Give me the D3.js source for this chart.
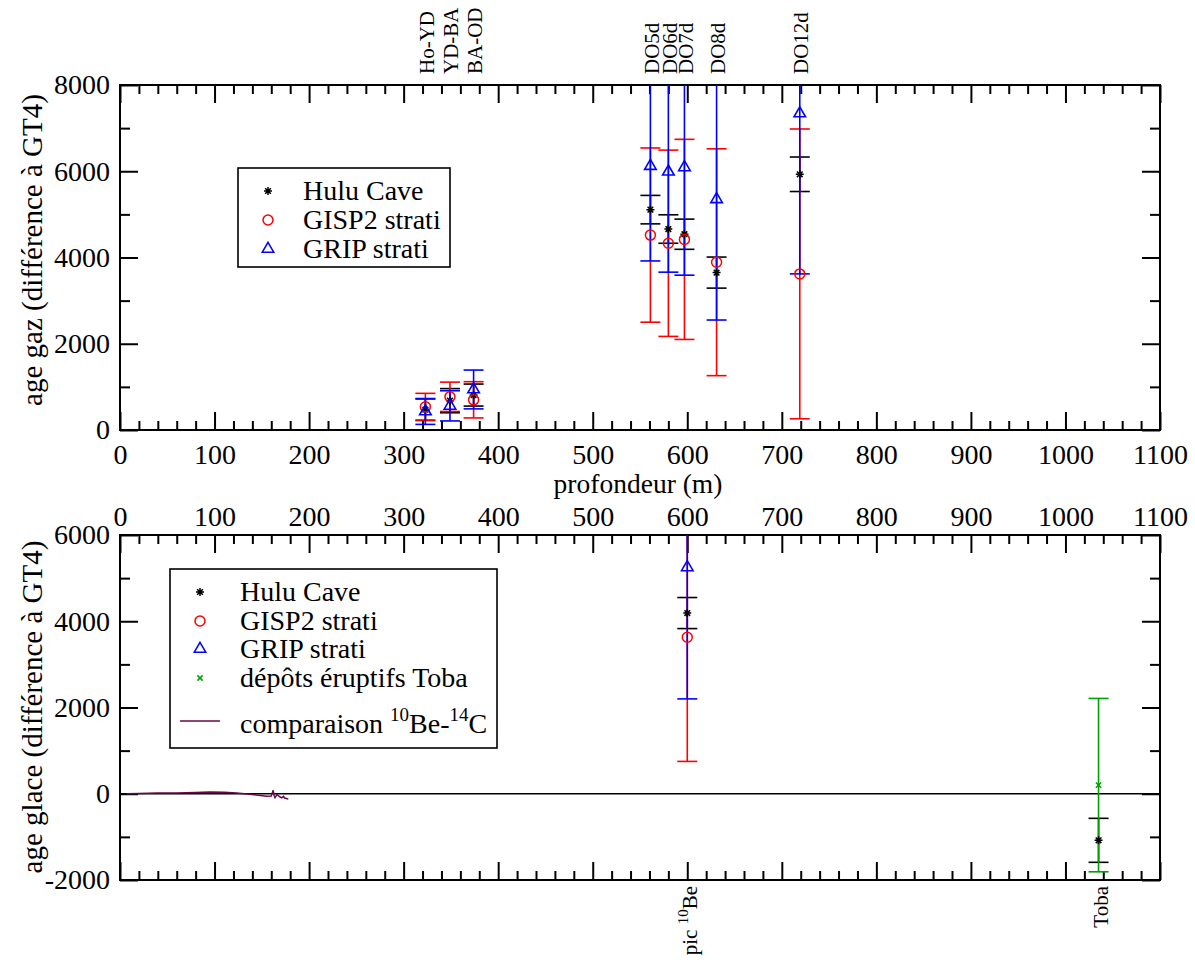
<!DOCTYPE html>
<html>
<head>
<meta charset="utf-8">
<script src="https://cdn.jsdelivr.net/npm/d3@7"></script>
<style>
  body { margin: 0; background: #fff; }
  svg { display: block; }
</style>
</head>
<body>
<svg id="chart" width="1195" height="962"></svg>
<script>
// ---------- DATA ----------
// Top panel (age gaz)
const topDepths = [323, 349, 374, 561, 580, 597, 631, 719];
const topEvents = ["Ho-YD", "YD-BA", "BA-OD", "DO5d", "DO6d", "DO7d", "DO8d", "DO12d"];
const huluTop = [470, 680, 810, 5110, 4660, 4540, 3650, 5930];
const huluTopErr = [250, 280, 255, 330, 330, 350, 360, 400];
const gisp2Top = [540, 770, 700, 4520, 4330, 4420, 3890, 3620];
const gisp2TopErr = [310, 340, 420, 2020, 2160, 2320, 2630, 3360];
const gripTop = [430, 560, 940, 6120, 5990, 6090, 5350, 7340];
const gripTopErr = [300, 350, 450, 2200, 2330, 2500, 2800, 3720];

// Bottom panel (age glace)
const botDepthBe = [600];
const huluBotBe = [4190];
const huluBotBeErr = [360];
const gisp2Bot = [3630];
const gisp2BotErr = [2880];
const gripBot = [5250];
const gripBotErr = [3050];
const botDepthToba = [1035];
const huluBotToba = [-1080];
const huluBotTobaErr = [510];
const tobaBot = [200];
const tobaBotErr = [2010];
const beCDepth = [7, 20, 40, 60, 80, 95, 110, 123, 140, 155, 160, 162, 163, 164, 166, 167, 169, 171, 173, 174, 176, 178];
const beCVal   = [0, 5, 15, 20, 28, 40, 35, 20, -20, -60, -55, 80, -40, -90, -20, -35, -70, -95, -60, -100, -110, -125];

const xTicksMajor = [0, 100, 200, 300, 400, 500, 600, 700, 800, 900, 1000, 1100];
const yTopTicks = [0, 2000, 4000, 6000, 8000];
const yBotTicks = [-2000, 0, 2000, 4000, 6000];
const bottomMarkers = [{depth: 600, label: "pic", sup: "10", tail: "Be"}, {depth: 1035, label: "Toba", sup: "", tail: ""}];

// ---------- SETUP ----------
const FONT = '"Liberation Serif", "Times New Roman", Times, serif';
const svg = d3.select("#chart");
const L = 120, R = 1160;
const topP = {t: 85, b: 430};
const botP = {t: 535, b: 880};

const x = d3.scaleLinear().domain([0, 1100]).range([L, R]);
const yT = d3.scaleLinear().domain([0, 8000]).range([topP.b, topP.t]);
const yB = d3.scaleLinear().domain([-2000, 6000]).range([botP.b, botP.t]);

const xMinor = d3.range(0, 1101, 20).filter(v => v % 100 !== 0);
const COL = {hulu: "#000", gisp2: "#ff0000", grip: "#0000ff", toba: "#00a000", bec: "#670748"};
const fmt = d => String(d);

// custom 8-arm star symbol
const star8 = {
  draw(ctx, size) {
    const r = Math.sqrt(size) / 2;
    const d = r * Math.SQRT1_2;
    ctx.moveTo(0, -r); ctx.lineTo(0, r);
    ctx.moveTo(-r, 0); ctx.lineTo(r, 0);
    ctx.moveTo(-d, -d); ctx.lineTo(d, d);
    ctx.moveTo(-d, d); ctx.lineTo(d, -d);
  }
};
const symStar = d3.symbol().type(star8).size(64)();
const symCircle = d3.symbol().type(d3.symbolCircle).size(Math.PI * 25)();
const symTri = d3.symbol().type(d3.symbolTriangle).size(58)();
const symX = d3.symbol().type(d3.symbolX).size(20)();

function frameAxes(y, yTicks, yMinor, p, opts) {
  const g = svg.append("g");
  const gb = g.append("g").attr("transform", `translate(0,${p.b})`);
  gb.call(d3.axisBottom(x).tickValues(xMinor).tickSize(-9).tickFormat(""));
  gb.append("g").call(d3.axisBottom(x).tickValues(xTicksMajor).tickSize(-18).tickPadding(14)
      .tickFormat(opts.bottomLabels ? fmt : ""));
  const gt = g.append("g").attr("transform", `translate(0,${p.t})`);
  gt.call(d3.axisTop(x).tickValues(xMinor).tickSize(-9).tickFormat(""));
  gt.append("g").call(d3.axisTop(x).tickValues(xTicksMajor).tickSize(-18).tickPadding(9)
      .tickFormat(opts.topLabels ? fmt : ""));
  const gl = g.append("g").attr("transform", `translate(${L},0)`);
  gl.call(d3.axisLeft(y).tickValues(yMinor).tickSize(-10).tickFormat(""));
  gl.append("g").call(d3.axisLeft(y).tickValues(yTicks).tickSize(-18).tickPadding(10).tickFormat(fmt));
  const gr = g.append("g").attr("transform", `translate(${R},0)`);
  gr.call(d3.axisRight(y).tickValues(yMinor).tickSize(-10).tickFormat(""));
  gr.append("g").call(d3.axisRight(y).tickValues(yTicks).tickSize(-18).tickFormat(""));
  g.selectAll(".domain").remove();
  g.selectAll("g").attr("font-family", null).attr("font-size", null);
  g.selectAll(".tick line").attr("stroke", "#000").attr("stroke-width", 2);
  g.selectAll(".tick text").attr("font-size", 28).attr("fill", "#000");
  g.append("rect").attr("x", L).attr("y", p.t).attr("width", R - L).attr("height", p.b - p.t)
    .attr("fill", "none").attr("stroke", "#000").attr("stroke-width", 2);
}

function clipFor(id, p) {
  svg.append("clipPath").attr("id", id).append("rect")
    .attr("x", L).attr("y", p.t).attr("width", R - L).attr("height", p.b - p.t);
}
clipFor("clipTop", topP);
clipFor("clipBot", botP);

function errorBars(g, xs, ys, es, y, color) {
  const data = xs.map((d, i) => ({x: d, y: ys[i], e: es[i]}));
  const gg = g.append("g").attr("stroke", color).attr("stroke-width", 1.6).attr("fill", "none");
  gg.selectAll("line.stem").data(data).join("line").attr("class", "stem")
    .attr("x1", d => x(d.x)).attr("x2", d => x(d.x))
    .attr("y1", d => y(d.y + d.e)).attr("y2", d => y(d.y - d.e));
  gg.selectAll("line.capT").data(data).join("line").attr("class", "capT")
    .attr("x1", d => x(d.x) - 10).attr("x2", d => x(d.x) + 10)
    .attr("y1", d => y(d.y + d.e)).attr("y2", d => y(d.y + d.e));
  gg.selectAll("line.capB").data(data).join("line").attr("class", "capB")
    .attr("x1", d => x(d.x) - 10).attr("x2", d => x(d.x) + 10)
    .attr("y1", d => y(d.y - d.e)).attr("y2", d => y(d.y - d.e));
}
function symbols(g, xs, ys, y, path, color, sw) {
  g.append("g").selectAll("path").data(xs.map((d, i) => ({x: d, y: ys[i]}))).join("path")
    .attr("d", path).attr("transform", d => `translate(${x(d.x)},${y(d.y)})`)
    .attr("fill", "none").attr("stroke", color).attr("stroke-width", sw || 1.5);
}

// ---------- TOP PANEL ----------
frameAxes(yT, yTopTicks, [1000, 3000, 5000, 7000], topP, {bottomLabels: true, topLabels: false});
const gTop = svg.append("g").attr("clip-path", "url(#clipTop)");
errorBars(gTop, topDepths, huluTop, huluTopErr, yT, COL.hulu);
errorBars(gTop, topDepths, gisp2Top, gisp2TopErr, yT, COL.gisp2);
errorBars(gTop, topDepths, gripTop, gripTopErr, yT, COL.grip);
symbols(gTop, topDepths, huluTop, yT, symStar, COL.hulu, 1.5);
symbols(gTop, topDepths, gisp2Top, yT, symCircle, COL.gisp2, 1.5);
symbols(gTop, topDepths, gripTop, yT, symTri, COL.grip, 1.6);

svg.append("g").selectAll("text").data(topDepths.map((d, i) => ({d, t: topEvents[i]}))).join("text")
  .attr("transform", d => `translate(${x(d.d)},74) rotate(-90)`)
  .attr("dy", "0.4em").attr("text-anchor", "start").attr("font-size", 21)
  .text(d => d.t);

svg.append("text").attr("x", 638).attr("y", 493).attr("text-anchor", "middle")
  .attr("font-size", 27.5).text("profondeur (m)");
svg.append("text").attr("transform", "translate(32,250) rotate(-90)").attr("dy", "0.35em")
  .attr("text-anchor", "middle").attr("font-size", 29).text("age gaz (différence à GT4)");

const lgT = svg.append("g");
lgT.append("rect").attr("x", 238).attr("y", 168).attr("width", 212).attr("height", 99)
  .attr("fill", "#fff").attr("stroke", "#000").attr("stroke-width", 1.6);
const lgTopItems = [
  {t: "Hulu Cave", s: symStar, c: COL.hulu, y: 191},
  {t: "GISP2 strati", s: symCircle, c: COL.gisp2, y: 220},
  {t: "GRIP strati", s: symTri, c: COL.grip, y: 249}
];
lgTopItems.forEach(it => {
  lgT.append("path").attr("d", it.s).attr("transform", `translate(268,${it.y})`)
    .attr("fill", "none").attr("stroke", it.c).attr("stroke-width", 1.5);
  lgT.append("text").attr("x", 303).attr("y", it.y + 9).attr("font-size", 28).text(it.t);
});

// ---------- BOTTOM PANEL ----------
frameAxes(yB, yBotTicks, [-1000, 1000, 3000, 5000], botP, {bottomLabels: false, topLabels: true});
const gBot = svg.append("g").attr("clip-path", "url(#clipBot)");
gBot.append("line").attr("x1", L).attr("x2", R).attr("y1", yB(0)).attr("y2", yB(0))
  .attr("stroke", "#000").attr("stroke-width", 1.5);
gBot.append("path").datum(beCDepth.map((d, i) => [d, beCVal[i]]))
  .attr("d", d3.line().x(d => x(d[0])).y(d => yB(d[1])))
  .attr("fill", "none").attr("stroke", COL.bec).attr("stroke-width", 1.5);
errorBars(gBot, botDepthBe, huluBotBe, huluBotBeErr, yB, COL.hulu);
errorBars(gBot, botDepthBe, gisp2Bot, gisp2BotErr, yB, COL.gisp2);
errorBars(gBot, botDepthBe, gripBot, gripBotErr, yB, COL.grip);
errorBars(gBot, botDepthToba, huluBotToba, huluBotTobaErr, yB, COL.hulu);
errorBars(gBot, botDepthToba, tobaBot, tobaBotErr, yB, COL.toba);
symbols(gBot, botDepthBe, huluBotBe, yB, symStar, COL.hulu, 1.5);
symbols(gBot, botDepthBe, gisp2Bot, yB, symCircle, COL.gisp2, 1.5);
symbols(gBot, botDepthBe, gripBot, yB, symTri, COL.grip, 1.6);
symbols(gBot, botDepthToba, huluBotToba, yB, symStar, COL.hulu, 1.5);
symbols(gBot, botDepthToba, tobaBot, yB, symX, COL.toba, 1.5);

bottomMarkers.forEach(m => {
  const t = svg.append("text").attr("transform", `translate(${x(m.depth)},886) rotate(-90)`)
    .attr("dy", "0.45em").attr("text-anchor", "end").attr("font-size", 21);
  t.append("tspan").text(m.label + (m.sup ? " " : ""));
  if (m.sup) {
    t.append("tspan").attr("font-size", 15).attr("dy", -9).text(m.sup);
    t.append("tspan").attr("dy", 9).text(m.tail);
  }
});

svg.append("text").attr("transform", "translate(32,707) rotate(-90)").attr("dy", "0.35em")
  .attr("text-anchor", "middle").attr("font-size", 29).text("age glace (différence à GT4)");

const lgB = svg.append("g");
lgB.append("rect").attr("x", 170).attr("y", 569).attr("width", 327).attr("height", 179)
  .attr("fill", "#fff").attr("stroke", "#000").attr("stroke-width", 1.6);
const lgBotItems = [
  {t: "Hulu Cave", s: symStar, c: COL.hulu, y: 592},
  {t: "GISP2 strati", s: symCircle, c: COL.gisp2, y: 621},
  {t: "GRIP strati", s: symTri, c: COL.grip, y: 649},
  {t: "dépôts éruptifs Toba", s: symX, c: COL.toba, y: 678}
];
lgBotItems.forEach(it => {
  lgB.append("path").attr("d", it.s).attr("transform", `translate(200,${it.y})`)
    .attr("fill", "none").attr("stroke", it.c).attr("stroke-width", 1.5);
  lgB.append("text").attr("x", 240).attr("y", it.y + 9).attr("font-size", 28).text(it.t);
});
lgB.append("line").attr("x1", 180).attr("x2", 220).attr("y1", 721).attr("y2", 721)
  .attr("stroke", COL.bec).attr("stroke-width", 1.5);
const lt = lgB.append("text").attr("x", 240).attr("y", 733).attr("font-size", 28);
lt.append("tspan").text("comparaison ");
lt.append("tspan").attr("font-size", 19).attr("dy", -12).text("10");
lt.append("tspan").attr("dy", 12).text("Be-");
lt.append("tspan").attr("font-size", 19).attr("dy", -12).text("14");
lt.append("tspan").attr("dy", 12).text("C");

svg.selectAll("text").style("font-family", FONT).style("fill", "#000");
</script>
</body>
</html>
